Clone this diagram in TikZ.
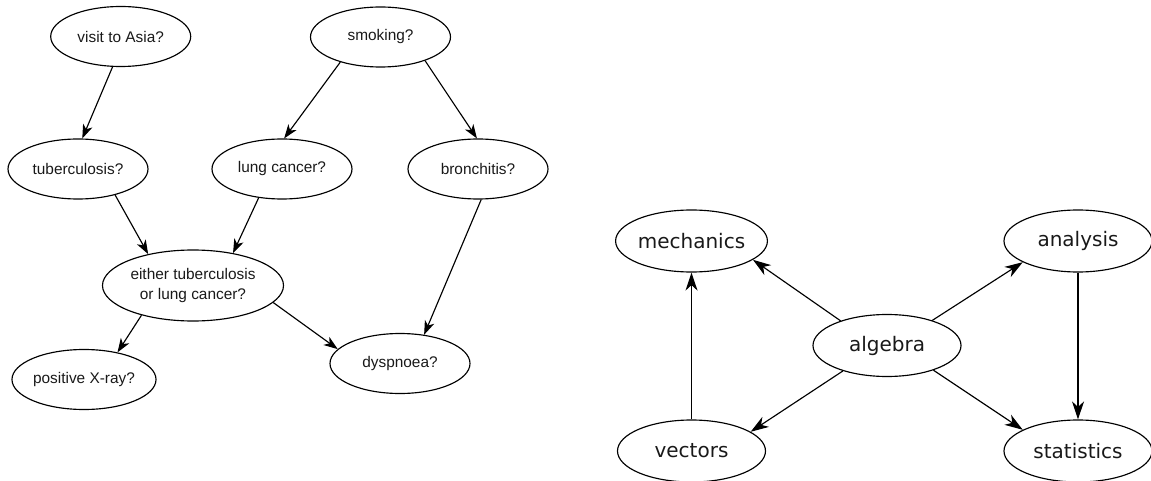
\documentclass[tikz,border=0pt]{standalone}
\usepackage{fontspec}
\newfontfamily\arialf{Liberation Sans}
\newfontfamily\dejavuf{DejaVu Sans}
\usetikzlibrary{shapes.geometric,arrows.meta}
\tikzset{
  bnode/.style={ellipse,draw,line width=1.15pt,inner sep=0pt,minimum width=140pt,minimum height=60pt,
    font=\arialf\fontsize{15.4}{20}\selectfont,align=center,text=black!90},
  bwide/.style={bnode,minimum width=181pt,minimum height=71pt},
  mnode/.style={ellipse,draw,line width=1.15pt,inner sep=0pt,minimum width=148pt,minimum height=62pt,
    font=\dejavuf\fontsize{20}{24}\selectfont,text=black!90},
  barrow/.style={line width=1.15pt,-{Stealth[length=14pt,width=10pt,inset=4pt]}},
  marrow/.style={line width=1.15pt,-{Stealth[length=18pt,width=12pt,inset=5.5pt]}}
}
\begin{document}
\begin{tikzpicture}[x=1pt,y=-1pt]
\useasboundingbox (0,0) rectangle (1151,481);
% left network
\node[bnode] (asia) at (120.7,36.5) {visit to Asia?};
\node[bnode] (smoke) at (380.5,37) {smoking?};
\node[bnode] (tub) at (78,169) {tuberculosis?};
\node[bnode] (lung) at (282,169) {lung cancer?};
\node[bnode] (bron) at (478,169) {bronchitis?};
\node[bwide] (either) at (193,285.5) {either tuberculosis\\or lung cancer?};
\node[bnode] (xray) at (84,379.5) {positive X-ray?};
\node[bnode] (dysp) at (400,363.5) {dyspnoea?};
\draw[barrow] (asia.-105.9) -- (tub.82.4);
\draw[barrow] (smoke.-148.9) -- (lung.86);
\draw[barrow] (smoke.-28.9) -- (bron.92);
\draw[barrow] (tub.-35.1) -- (either.145.8);
\draw[barrow] (lung.-129.6) -- (either.39.1);
\draw[barrow] (either.-150.4) -- (xray.39);
\draw[barrow] (either.-12.6) -- (dysp.167.7);
\draw[barrow] (bron.-84.3) -- (dysp.50.7);
% right network
\node[mnode] (mech) at (691.5,241) {mechanics};
\node[mnode] (anal) at (1078,241) {analysis};
\node[mnode] (alg) at (887,345.5) {algebra};
\node[mnode] (vec) at (691.5,451) {vectors};
\node[mnode] (stat) at (1078,451) {statistics};
\draw[marrow] (alg.152) -- (mech.-17.5);
\draw[marrow] (vec.north) -- (mech.south);
\draw[marrow] (alg.-150.9) -- (vec.18.3);
\draw[marrow] (alg.29) -- (anal.-159.4);
\draw[marrow] (alg.-28.7) -- (stat.159.5);
\draw[marrow] (anal.south) -- (stat.north);
\end{tikzpicture}
\end{document}
